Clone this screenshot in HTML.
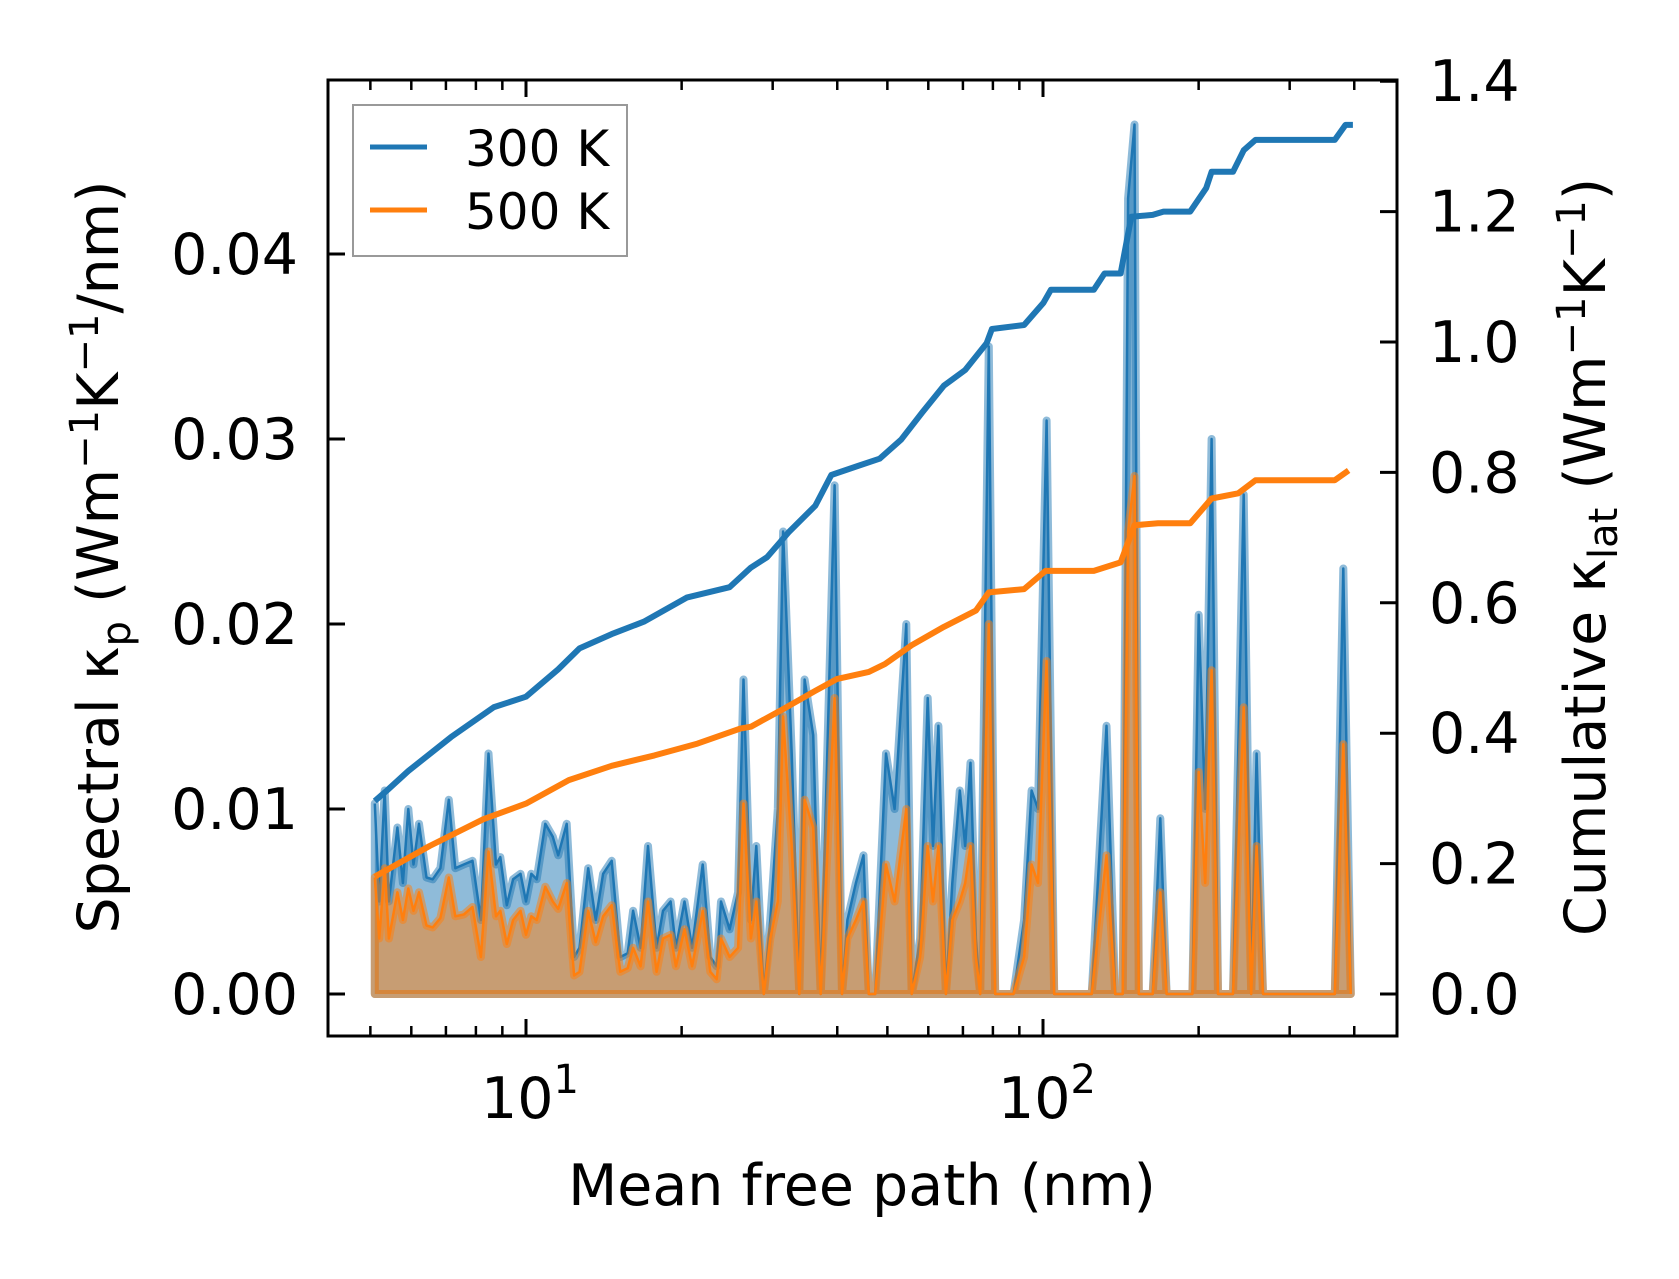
<!DOCTYPE html>
<html><head><meta charset="utf-8"><style>
html,body{margin:0;padding:0;background:#fff}
svg text{font-family:"DejaVu Sans","Liberation Sans",sans-serif;fill:#000}
</style></head><body>
<svg id="chart" width="1679" height="1274" viewBox="0 0 1679 1274" xmlns="http://www.w3.org/2000/svg">
<g id="fills"></g>
<g id="cums"></g>
<g id="axes"></g>
<g>
<rect x="353" y="105" width="274" height="151" fill="#fff" fill-opacity="0.8" stroke="#999" stroke-width="2"/>
<line x1="370" y1="147" x2="427" y2="147" stroke="#1f77b4" stroke-width="5"/>
<text x="465" y="166" font-size="50">300 K</text>
<line x1="370" y1="210" x2="427" y2="210" stroke="#ff7f0e" stroke-width="5"/>
<text x="465" y="229" font-size="50">500 K</text>
</g>
<text x="862" y="1205" font-size="57" text-anchor="middle">Mean free path (nm)</text>
<text transform="translate(118,557) rotate(-90)" font-size="57" text-anchor="middle">Spectral κ<tspan font-size="40" dy="12">p</tspan><tspan dy="-12"> (Wm</tspan><tspan font-size="40" dy="-20">−1</tspan><tspan dy="20">K</tspan><tspan font-size="40" dy="-20">−1</tspan><tspan dy="20">/nm)</tspan></text>
<text transform="translate(1605,557) rotate(-90)" font-size="57" text-anchor="middle">Cumulative κ<tspan font-size="40" dy="12">lat</tspan><tspan dy="-12"> (Wm</tspan><tspan font-size="40" dy="-20">−1</tspan><tspan dy="20">K</tspan><tspan font-size="40" dy="-20">−1</tspan><tspan dy="20">)</tspan></text>
</svg>
<script>
const mfp=[5.10,5.20,5.33,5.43,5.64,5.78,5.92,6.06,6.21,6.42,6.60,6.83,7.09,7.30,7.58,7.88,8.18,8.46,8.75,8.92,9.18,9.44,9.76,10.0,10.24,10.49,10.90,11.27,11.54,11.99,12.39,12.69,13.19,13.64,14.10,14.65,15.22,15.73,16.11,16.66,17.22,17.89,18.41,19.04,19.50,20.26,20.95,21.97,22.72,23.38,23.83,24.76,25.72,26.34,27.23,27.89,28.84,29.68,30.69,31.43,32.66,33.77,34.58,35.93,37.15,39.52,40.86,41.85,43.47,44.95,46.03,47.37,49.69,51.63,54.41,55.72,57.86,59.84,61.28,62.76,64.89,66.78,69.05,70.71,72.42,74.17,75.60,78.54,80.82,87.67,91.92,95.06,97.81,101.6,105.1,124.2,132.7,137.9,142.6,146.1,150.3,153.2,163.0,168.6,173.4,194.5,200.1,205.9,211.9,218.0,233.1,244.5,252.8,258.9,266.4,366.8,381.0,393.8];
const k300=[0.0103,0.0050,0.0110,0.0050,0.0090,0.0060,0.0100,0.0070,0.0092,0.0063,0.0062,0.0068,0.0105,0.0068,0.0070,0.0072,0.0040,0.0130,0.0070,0.0074,0.0048,0.0062,0.0065,0.0050,0.0065,0.0062,0.0092,0.0085,0.0075,0.0092,0.0020,0.0025,0.0068,0.0040,0.0065,0.0072,0.0020,0.0022,0.0045,0.0025,0.0080,0.0025,0.0045,0.0050,0.0025,0.0050,0.0025,0.0070,0.0020,0.0015,0.0050,0.0035,0.0055,0.0170,0.0040,0.0080,0,0.0040,0.0100,0.0250,0.0130,0,0.0170,0.0140,0,0.0275,0,0.0040,0.0060,0.0075,0,0,0.0130,0.0100,0.0200,0,0.0030,0.0160,0.0080,0.0145,0,0.0060,0.0110,0.0080,0.0125,0.0030,0,0.0350,0,0,0.0040,0.0110,0.0100,0.0310,0,0,0.0145,0,0,0.0430,0.0470,0,0,0.0095,0,0,0.0205,0.0100,0.0300,0,0,0.0270,0,0.0130,0,0,0.0230,0];
const k500=[0.0063,0.0030,0.0068,0.0030,0.0055,0.0040,0.0057,0.0045,0.0055,0.0037,0.0036,0.0041,0.0063,0.0042,0.0043,0.0047,0.0020,0.0077,0.0042,0.0045,0.0027,0.0040,0.0045,0.0032,0.0042,0.0040,0.0058,0.0050,0.0046,0.0060,0.0010,0.0012,0.0045,0.0028,0.0042,0.0048,0.0012,0.0014,0.0025,0.0015,0.0050,0.0012,0.0030,0.0032,0.0015,0.0035,0.0015,0.0045,0.0012,0.0008,0.0030,0.0020,0.0025,0.0103,0.0030,0.0050,0,0.0030,0.0050,0.0150,0.0080,0,0.0105,0.0090,0,0.0160,0,0.0030,0.0040,0.0050,0,0,0.0070,0.0050,0.0100,0,0.0020,0.0080,0.0050,0.0080,0,0.0040,0.0050,0.0060,0.0080,0.0020,0,0.0200,0,0,0.0020,0.0070,0.0060,0.0180,0,0,0.0075,0,0,0.0250,0.0280,0,0,0.0055,0,0,0.0120,0.0060,0.0175,0,0,0.0155,0,0.0080,0,0,0.0135,0];
const cumX300=[5.10,5.38,5.92,7.16,8.67,10.0,11.54,12.69,14.65,16.90,20.46,24.76,27.23,29.26,32.19,36.27,38.96,43.88,48.29,53.12,58.41,64.28,70.71,77.80,79.66,91.92,100.2,103.6,125.4,131.5,141.3,148.2,163.0,171.0,192.6,206.9,211.9,233.1,244.5,257.6,366.8,384.7,397.6];
const cum300=[0.296,0.312,0.342,0.394,0.44,0.456,0.498,0.53,0.552,0.571,0.608,0.624,0.654,0.67,0.708,0.749,0.796,0.81,0.821,0.85,0.892,0.933,0.957,0.998,1.02,1.026,1.06,1.08,1.08,1.105,1.105,1.192,1.195,1.2,1.2,1.236,1.261,1.261,1.294,1.31,1.31,1.333,1.333];
const cumX500=[5.10,6.51,8.26,10.0,12.10,14.65,17.72,21.46,25.97,27.23,31.43,36.27,39.90,46.03,49.45,55.72,64.28,74.17,78.54,91.92,101.1,125.4,141.3,150.3,166.9,192.6,211.9,238.6,257.6,366.8,390.1];
const cum500=[0.18,0.227,0.268,0.292,0.328,0.35,0.366,0.384,0.407,0.41,0.437,0.465,0.483,0.494,0.506,0.535,0.563,0.588,0.616,0.621,0.649,0.649,0.662,0.719,0.722,0.722,0.76,0.768,0.788,0.788,0.803];
const leftTicks=[0,0.01,0.02,0.03,0.04];
const leftTickLabels=["0.00","0.01","0.02","0.03","0.04"];
const rightTicks=[0,0.2,0.4,0.6,0.8,1.0,1.2,1.4];
const rightTickLabels=["0.0","0.2","0.4","0.6","0.8","1.0","1.2","1.4"];
const xMajor=[10,100];
const xMinor=[5,6,7,8,9,20,30,40,50,60,70,80,90,200,300,400];

const L=328,R=1397,T=80,B=1036;
const X=v=>526+517*(Math.log10(v)-1);
const YL=v=>994-v*18500;
const YR=v=>994-v*652;
const NS='http://www.w3.org/2000/svg';
function mk(tag,attrs,parent){const e=document.createElementNS(NS,tag);for(const k in attrs)e.setAttribute(k,attrs[k]);parent.appendChild(e);return e;}
const fills=document.getElementById('fills'),cums=document.getElementById('cums'),axes=document.getElementById('axes');
function area(vals,color,name){
  let pts=mfp.map((m,i)=>X(m).toFixed(1)+','+YL(vals[i]).toFixed(1));
  const poly=[X(mfp[0]).toFixed(1)+','+YL(0)].concat(pts,[X(mfp[mfp.length-1]).toFixed(1)+','+YL(0)]).join(' ');
  const p=mk('polygon',{points:poly,fill:color,'fill-opacity':0.5,stroke:color,'stroke-opacity':0.5,'stroke-width':8,'stroke-linejoin':'round'},fills);
  
  
  const l=mk('polyline',{points:pts.join(' '),fill:'none',stroke:color,'stroke-width':2.5,'stroke-linejoin':'round'},fills);
  
  
}
area(k300,'#1f77b4','spectral-300k');
area(k500,'#ff7f0e','spectral-500k');
function cum(xs,vs,color,name){
  const l=mk('polyline',{points:xs.map((m,i)=>X(m).toFixed(1)+','+YR(vs[i]).toFixed(1)).join(' '),fill:'none',stroke:color,'stroke-width':6,'stroke-linejoin':'round'},cums);
  
  
}
cum(cumX300,cum300,'#1f77b4','cumulative-300k');
cum(cumX500,cum500,'#ff7f0e','cumulative-500k');
const fr=mk('rect',{x:L,y:T,width:R-L,height:B-T,fill:'none',stroke:'#000','stroke-width':3},axes);


leftTicks.forEach((v,i)=>{
  const t=mk('line',{x1:L,x2:L+17,y1:YL(v),y2:YL(v),stroke:'#000','stroke-width':3},axes);
  
  
  const tx=mk('text',{x:L-30,y:YL(v)+20,'font-size':57,'text-anchor':'end'},axes);tx.textContent=leftTickLabels[i];
  
  
});
rightTicks.forEach((v,i)=>{
  const t=mk('line',{x1:R-17,x2:R,y1:YR(v),y2:YR(v),stroke:'#000','stroke-width':3},axes);
  
  
  const tx=mk('text',{x:R+32,y:YR(v)+20,'font-size':57},axes);tx.textContent=rightTickLabels[i];
  
  
});
xMajor.forEach(v=>{
  [[B,B-17],[T,T+17]].forEach(([a,b])=>{const t=mk('line',{x1:X(v),x2:X(v),y1:a,y2:b,stroke:'#000','stroke-width':3},axes);
  
  });
  const tx=mk('text',{x:X(v)+4,y:1118,'font-size':57,'text-anchor':'middle'},axes);
  
  
  tx.appendChild(document.createTextNode('10'));
  const sup=mk('tspan',{'font-size':40,dy:-25},tx);sup.textContent=String(Math.round(Math.log10(v)));
});
xMinor.forEach(v=>{
  [[B,B-10],[T,T+10]].forEach(([a,b])=>{const t=mk('line',{x1:X(v),x2:X(v),y1:a,y2:b,stroke:'#000','stroke-width':2.5},axes);
  
  });
});
</script>
</body></html>
